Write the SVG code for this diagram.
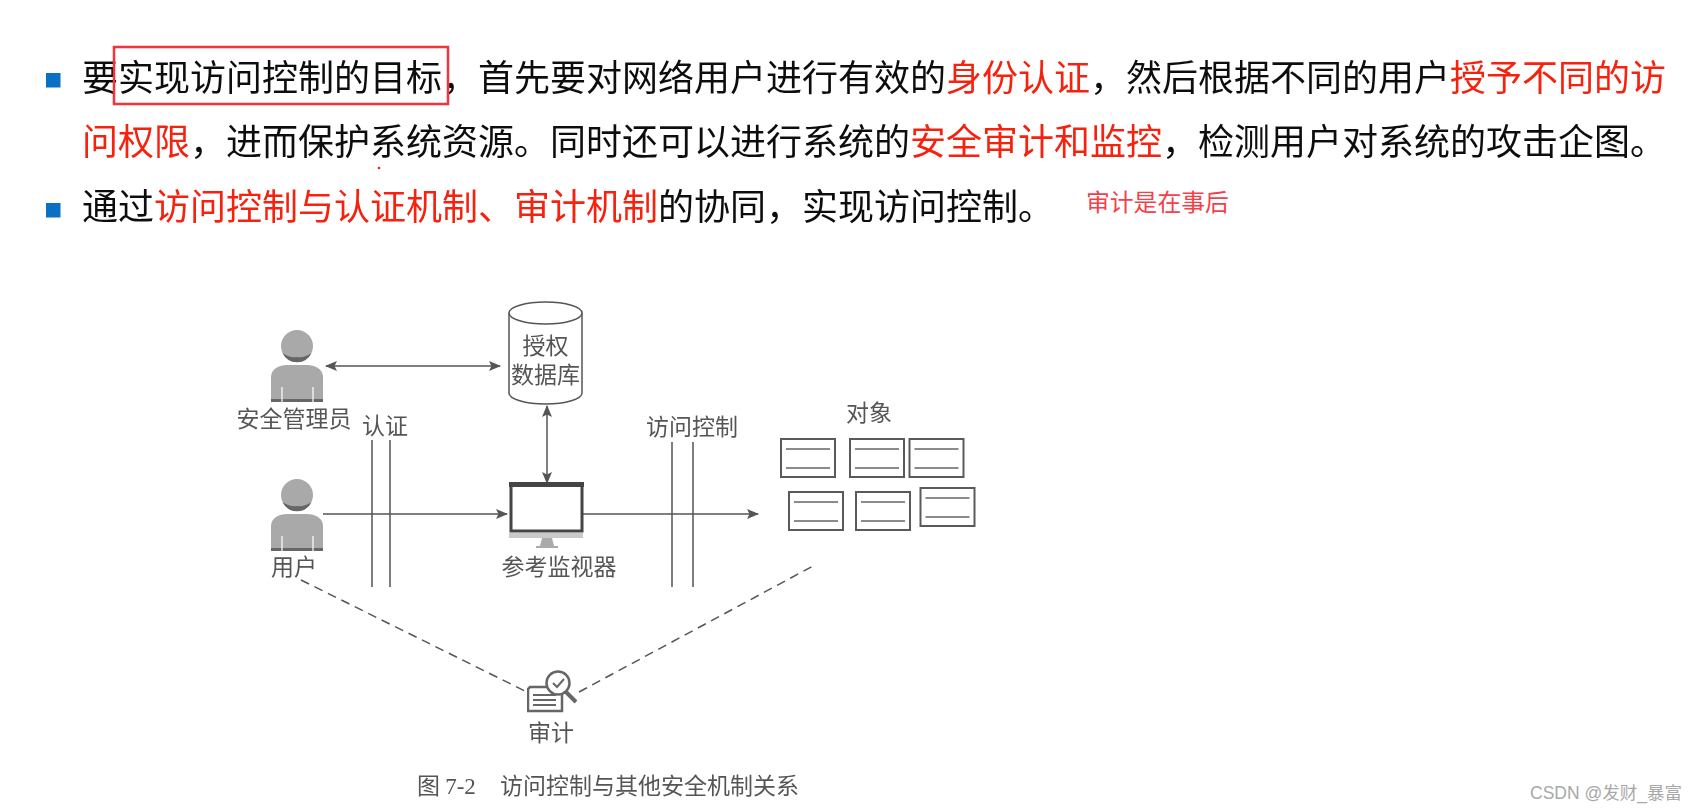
<svg xmlns="http://www.w3.org/2000/svg" width="1699" height="811" viewBox="0 0 1699 811">
<style>
text{font-family:"Noto Sans CJK SC","Noto Sans",sans-serif}
text.wm{font-family:"Liberation Sans","Noto Sans CJK SC",sans-serif;font-size:17.500px;fill:#a8a8a8}
.main{font-size:36px;fill:#111}
.red{fill:#f5200f}
.lab{font-size:23px;fill:#555;text-anchor:middle;dominant-baseline:central}
.ln{stroke:#555;stroke-width:1.5;fill:none}
.dash{stroke:#555;stroke-width:1.5;fill:none;stroke-dasharray:9 6}
.box{fill:#fff;stroke:#5a5a5a;stroke-width:2}
.in{stroke:#666;stroke-width:1.5}
.sk{fill:#a9a9a9}
</style>
<defs>
<filter id="soft" x="-2%" y="-2%" width="104%" height="104%"><feGaussianBlur stdDeviation="0.45"/></filter>
<marker id="ah" viewBox="0 0 12 10" refX="11" refY="5" markerWidth="12" markerHeight="10" markerUnits="userSpaceOnUse" orient="auto-start-reverse"><path d="M0 0L12 5L0 10L2.5 5Z" fill="#555"/></marker>
<g id="person"><circle cx="0" cy="0" r="16" class="sk"/><path d="M-14.500 7A16 16 0 0 0 14.500 7A20 20 0 0 1 0 11A20 20 0 0 1-14.500 7Z" fill="#666"/><path d="M-26 56V31C-26 23-18 19-10 19H10C18 19 26 23 26 31V56Z" class="sk"/><rect x="-26" y="53" width="52" height="3" fill="#666"/><path d="M-15 41V56M16 41V56" stroke="#fff" stroke-width="1.2"/></g>
<g id="doc"><rect x="0" y="0" width="54" height="38" class="box"/><path d="M5 10H49M5 29H49" class="in"/></g>
</defs>
<rect width="1699" height="811" fill="#fff"/>

<g id="bullets"><rect x="46" y="73" width="14.500" height="14.500" fill="#0a70c4"/><rect x="46" y="203" width="14.500" height="14.500" fill="#0a70c4"/></g>
<g id="slide-text" filter="url(#soft)">
<text class="main" x="82" y="91">要实现访问控制的目标，首先要对网络用户进行有效的<tspan class="red">身份认证</tspan>，然后根据不同的用户<tspan class="red">授予不同的访</tspan></text>
<text class="main" x="82" y="155"><tspan class="red">问权限</tspan>，进而保护系统资源。同时还可以进行系统的<tspan class="red">安全审计和监控</tspan>，检测用户对系统的攻击企图。</text>
<text class="main" x="82" y="220">通过<tspan class="red">访问控制与认证机制、审计机制</tspan>的协同，实现访问控制。</text>
</g>
<g id="annotations">
<rect x="114" y="47" width="334" height="57" fill="none" stroke="#f5333a" stroke-width="2.500"/>
<circle cx="379" cy="168" r="1.300" fill="#d22"/>
<text x="1086" y="211" font-size="23.800" fill="#f5404a">审计是在事后</text>
</g>

<g id="connectors" filter="url(#soft)">
<path class="ln" d="M326 366H500" marker-start="url(#ah)" marker-end="url(#ah)"/>
<path class="ln" d="M547 406V483" marker-start="url(#ah)" marker-end="url(#ah)"/>
<path class="ln" d="M323 514H507" marker-end="url(#ah)"/>
<path class="ln" d="M583 514H758" marker-end="url(#ah)"/>
<path class="ln" d="M372 440V587M390 440V587"/>
<path class="ln" d="M672 442V587M693 442V587"/>
<path class="dash" d="M301 580L527 692"/>
<path class="dash" d="M579 692L813 566"/>
</g>

<g id="admin" filter="url(#soft)"><use href="#person" x="297" y="346"/><text class="lab" x="294" y="417">安全管理员</text></g>
<g id="user" filter="url(#soft)"><use href="#person" x="297" y="495"/><text class="lab" x="294" y="565">用户</text></g>
<g id="auth-label" filter="url(#soft)"><text class="lab" x="385" y="424">认证</text></g>
<g id="access-label" filter="url(#soft)"><text class="lab" x="692" y="425">访问控制</text></g>
<g id="authdb" filter="url(#soft)">
<path d="M509 313V393A36.500 11 0 0 0 582 393V313" fill="#fff" stroke="#555" stroke-width="1.500"/>
<ellipse cx="545.500" cy="313" rx="36.500" ry="11" fill="#fff" stroke="#555" stroke-width="1.500"/>
<text class="lab" x="545.500" y="344">授权<tspan x="545.500" dy="29">数据库</tspan></text>
</g>
<g id="monitor" filter="url(#soft)">
<rect x="511" y="485" width="71" height="46" fill="#fff" stroke="#444" stroke-width="3"/>
<rect x="509" y="482" width="75" height="5" fill="#444"/>
<rect x="509" y="533" width="74" height="5" fill="#c9c9c9"/>
<path d="M542 538H552L554 546H558V548H536V546H540Z" fill="#aaa"/>
<text class="lab" x="559" y="565">参考监视器</text>
</g>
<g id="objects" filter="url(#soft)">
<text class="lab" x="869" y="411">对象</text>
<use href="#doc" x="781" y="439"/><use href="#doc" x="850" y="439"/><use href="#doc" x="909.500" y="439"/>
<use href="#doc" x="789" y="492"/><use href="#doc" x="856" y="492"/><use href="#doc" x="920.500" y="488"/>
</g>
<g id="audit" filter="url(#soft)">
<path d="M530 687H562V711H528V689Z" fill="#fff" stroke="#666" stroke-width="2.500"/>
<path d="M533 695H556M533 700H556M533 705H556" stroke="#666" stroke-width="2"/>
<circle cx="558" cy="683" r="11.500" fill="#fff" stroke="#666" stroke-width="2.500"/>
<path d="M553 683L557 687L564 679" stroke="#666" stroke-width="2" fill="none"/>
<path d="M566 692L576 702" stroke="#666" stroke-width="4"/>
<text class="lab" x="551" y="731">审计</text>
</g>
<g id="caption" filter="url(#soft)">
<text x="417" y="794" font-size="23" fill="#555">图 <tspan font-family="Liberation Serif">7-2</tspan></text>
<text x="500" y="794" font-size="23" fill="#555">访问控制与其他安全机制关系</text>
</g>
<g id="watermark"><text class="wm" x="1530" y="799">CSDN @发财_暴富</text></g>
</svg>
